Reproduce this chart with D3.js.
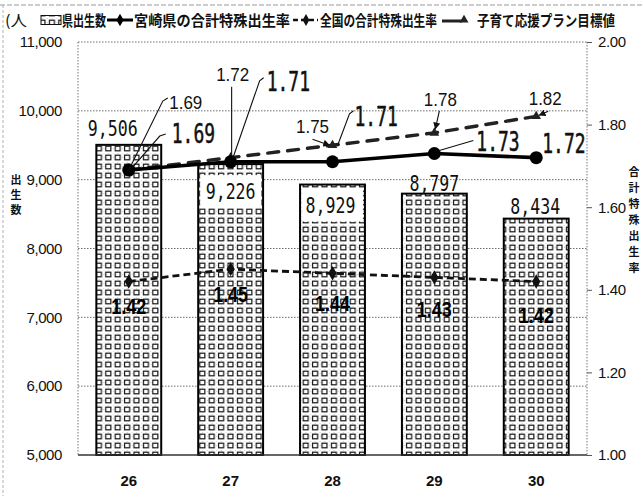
<!DOCTYPE html>
<html>
<head>
<meta charset="utf-8">
<script src="https://cdn.jsdelivr.net/npm/d3@7"></script>
<style>
  html, body { margin: 0; padding: 0; background: #fff; }
  svg { display: block; }
</style>
</head>
<body>
<svg id="chart" width="642" height="496"></svg>
<script>
// ---- data ----
const years = ["26", "27", "28", "29", "30"];
const births = [9506, 9226, 8929, 8797, 8434];
const miyazakiTFR = [1.69, 1.71, 1.71, 1.73, 1.72];
const nationalTFR = [1.42, 1.45, 1.44, 1.43, 1.42];
const planTarget = [1.69, 1.72, 1.75, 1.78, 1.82];
const birthTicks = [5000, 6000, 7000, 8000, 9000, 10000, 11000];
const rateTicks = [1.0, 1.2, 1.4, 1.6, 1.8, 2.0];
const unitLabel = "(人";
const legendLabels = ["県出生数", "宮崎県の合計特殊出生率", "全国の合計特殊出生率", "子育て応援プラン目標値"];
const leftTitle = "出生数";
const rightTitle = "合計特殊出生率";

// ---- annotation layout (offsets from the marks they describe) ----
const birthLabelPos = [
  { dx: -16, dy: -9, box: false },
  { dx: 0, dy: 35, box: true },
  { dx: -2, dy: 28, box: true },
  { dx: 0, dy: -3, box: false },
  { dx: -1, dy: -5, box: false }
];
const miyaLabelPos = [
  { dx: 43, dy: -27, leader: [[3, -2], [31, -34], [37, -36]] },
  { dx: 36, dy: -71, leader: [[2, -3], [29, -81], [33, -84]] },
  { dx: 22, dy: -36, leader: [[5, -16], [17, -48], [21, -51]] },
  { dx: 42, dy: -3, leader: [[5, -3], [39, -13]] },
  { dx: 6, dy: -5, leader: null }
];
const targetLabelPos = [
  { dx: 57, dy: -61, leader: [[0, 0], [34, -69], [39, -72]], arrow: false },
  { dx: 2, dy: -77, leader: [[1, -71], [1, -3]], arrow: false },
  { dx: -20, dy: -12, leader: [[-20, -6], [-3, 0]], arrow: true },
  { dx: 6, dy: -27, leader: [[5, -22], [1, -4]], arrow: true },
  { dx: 9, dy: -11, leader: [[12, -5], [3, -1]], arrow: true }
];
const nationalLabelDy = [32, 33, 38, 40, 41];

// ---- frame ----
const W = 642, H = 496;
const plotL = 78, plotR = 587, plotT = 42, plotB = 455;
const svg = d3.select("#chart");

const defs = svg.append("defs");
const pat = defs.append("pattern")
  .attr("id", "boxes")
  .attr("patternUnits", "userSpaceOnUse")
  .attr("width", 9.4).attr("height", 9);
pat.append("rect").attr("width", 9.4).attr("height", 9).attr("fill", "#fff");
pat.append("rect").attr("x", 2.4).attr("y", 2.2).attr("width", 5).attr("height", 4.6)
  .attr("fill", "none").attr("stroke", "#151515").attr("stroke-width", 1.2);
[[0.6, 0.6], [4.9, 0.5], [0.6, 4.5]].forEach(([ccx, ccy]) =>
  pat.append("circle").attr("cx", ccx).attr("cy", ccy).attr("r", 0.45).attr("fill", "#999"));

defs.append("marker")
  .attr("id", "arrow")
  .attr("viewBox", "0 0 10 10")
  .attr("refX", 9).attr("refY", 5)
  .attr("markerWidth", 7).attr("markerHeight", 7)
  .attr("markerUnits", "userSpaceOnUse")
  .attr("orient", "auto")
  .append("path").attr("d", "M0,0 L10,5 L0,10 Z").attr("fill", "#111");

// page border dashes
svg.append("line").attr("x1", 0).attr("x2", W).attr("y1", 5).attr("y2", 5)
  .attr("stroke", "#9a9a9a").attr("stroke-width", 1).attr("stroke-dasharray", "5,2");
svg.append("line").attr("x1", 3).attr("x2", 3).attr("y1", 5).attr("y2", H)
  .attr("stroke", "#b0b0b0").attr("stroke-width", 1).attr("stroke-dasharray", "3,2");

// ---- scales ----
const x = d3.scaleBand().domain(years).range([plotL, plotR])
  .paddingInner(0.363).paddingOuter(0.18);
const bw = x.bandwidth();
const cx = i => x(years[i]) + bw / 2;
const yL = d3.scaleLinear().domain([5000, 11000]).range([plotB, plotT]);
const yR = d3.scaleLinear().domain([1.0, 2.0]).range([plotB, plotT]);

// ---- grid ----
svg.append("g").selectAll("line")
  .data(birthTicks.filter(d => d > 5000))
  .join("line")
  .attr("x1", plotL).attr("x2", plotR)
  .attr("y1", d => yL(d)).attr("y2", d => yL(d))
  .attr("stroke", "#6e6e6e").attr("stroke-width", 1).attr("stroke-dasharray", "1.5,1.5");
[plotL, plotR].forEach(xx =>
  svg.append("line").attr("x1", xx).attr("x2", xx).attr("y1", plotT).attr("y2", plotB)
    .attr("stroke", "#777").attr("stroke-width", 1).attr("stroke-dasharray", "1.5,1.5"));

// ---- axes ----
const gL = svg.append("g").attr("transform", `translate(${plotL},0)`)
  .call(d3.axisLeft(yL).tickValues(birthTicks).tickFormat(d3.format(",")).tickSize(0).tickPadding(16));
gL.select(".domain").remove();
gL.selectAll("text").attr("font-family", "Liberation Sans, Arial, sans-serif")
  .attr("font-size", 15).attr("fill", "#111").attr("letter-spacing", "-0.4");

const gR = svg.append("g").attr("transform", `translate(${plotR},0)`)
  .call(d3.axisRight(yR).tickValues(rateTicks).tickFormat(d3.format(".2f")).tickSize(5).tickPadding(6));
gR.select(".domain").remove();
gR.selectAll("line").attr("stroke", "#555");
gR.selectAll("text").attr("font-family", "Liberation Sans, Arial, sans-serif")
  .attr("font-size", 15).attr("fill", "#111").attr("letter-spacing", "-0.4");

const gX = svg.append("g").attr("transform", `translate(0,${plotB})`)
  .call(d3.axisBottom(x).tickSize(0).tickPadding(20));
gX.select(".domain").remove();
gX.selectAll("text").attr("font-family", "Liberation Sans, Arial, sans-serif")
  .attr("font-size", 15).attr("font-weight", "bold").attr("fill", "#111");

// ---- bars ----
svg.append("g").selectAll("rect")
  .data(births)
  .join("rect")
  .attr("x", (d, i) => x(years[i]))
  .attr("y", d => yL(d))
  .attr("width", bw)
  .attr("height", d => plotB - yL(d))
  .attr("fill", "url(#boxes)")
  .attr("stroke", "#000").attr("stroke-width", 2);

// baseline
svg.append("line").attr("x1", plotL).attr("x2", plotR).attr("y1", plotB).attr("y2", plotB)
  .attr("stroke", "#333").attr("stroke-width", 1.3);

// white plates behind in-bar labels
svg.append("g").selectAll("rect")
  .data(births.map((v, i) => ({ v, i, p: birthLabelPos[i] })).filter(d => d.p.box))
  .join("rect")
  .attr("x", d => x(years[d.i]) + 2)
  .attr("y", d => yL(d.v) + d.p.dy - 24)
  .attr("width", bw - 4)
  .attr("height", 33)
  .attr("fill", "#fff");

// ---- lines ----
const idx = d3.range(years.length);
const lineOf = arr => d3.line().x(i => cx(i)).y(i => yR(arr[i]))(idx);

// national
svg.append("path").attr("d", lineOf(nationalTFR))
  .attr("fill", "none").attr("stroke", "#111").attr("stroke-width", 2.8)
  .attr("stroke-dasharray", "7,4");
svg.append("g").selectAll("path").data(nationalTFR).join("path")
  .attr("transform", (d, i) => `translate(${cx(i)},${yR(d)})`)
  .attr("d", d3.symbol(d3.symbolDiamond, 60)).attr("fill", "#111");

// plan target
svg.append("path").attr("d", lineOf(planTarget))
  .attr("fill", "none").attr("stroke", "#222").attr("stroke-width", 3.4)
  .attr("stroke-linecap", "round").attr("stroke-dasharray", "11,9");
svg.append("g").selectAll("path").data(planTarget).join("path")
  .attr("transform", (d, i) => `translate(${cx(i)},${yR(d)})`)
  .attr("d", d3.symbol(d3.symbolTriangle, 40)).attr("fill", "#222");

// Miyazaki
svg.append("path").attr("d", lineOf(miyazakiTFR))
  .attr("fill", "none").attr("stroke", "#000").attr("stroke-width", 3.6);
svg.append("g").selectAll("circle").data(miyazakiTFR).join("circle")
  .attr("cx", (d, i) => cx(i)).attr("cy", d => yR(d)).attr("r", 6.5).attr("fill", "#000");

// ---- labels ----
const fmtRate = d3.format(".2f");
const fmtBirth = d3.format(",");
const monoFont = "DejaVu Sans Mono, Liberation Mono, monospace";

// birth counts (tall, narrow monospace digits)
svg.append("g").selectAll("text").data(births).join("text")
  .attr("transform", (d, i) =>
    `translate(${cx(i) + birthLabelPos[i].dx},${yL(d) + birthLabelPos[i].dy}) scale(1,1.25)`)
  .attr("text-anchor", "middle")
  .attr("font-family", monoFont)
  .attr("font-size", 16.6)
  .attr("fill", "#111")
  .text(d => fmtBirth(d));

// leaders
const leaderLine = d3.line();
function drawLeader(px, py, pts, arrow) {
  const p = svg.append("path")
    .attr("d", leaderLine(pts.map(([dx, dy]) => [px + dx, py + dy])))
    .attr("fill", "none").attr("stroke", "#111").attr("stroke-width", 1.1);
  if (arrow) p.attr("marker-end", "url(#arrow)");
}
planTarget.forEach((v, i) => {
  const L = targetLabelPos[i];
  if (L.leader) drawLeader(cx(i), yR(v), L.leader, L.arrow);
});
miyazakiTFR.forEach((v, i) => {
  const L = miyaLabelPos[i];
  if (L.leader) drawLeader(cx(i), yR(v), L.leader, false);
});

// plan target values
svg.append("g").selectAll("text").data(planTarget).join("text")
  .attr("x", (d, i) => cx(i) + targetLabelPos[i].dx)
  .attr("y", (d, i) => yR(d) + targetLabelPos[i].dy)
  .attr("text-anchor", "middle")
  .attr("font-family", "Liberation Sans, Arial, sans-serif")
  .attr("font-size", 19)
  .attr("textLength", 33).attr("lengthAdjust", "spacingAndGlyphs")
  .attr("fill", "#111")
  .text(d => fmtRate(d));

// Miyazaki values (tall, narrow monospace digits)
svg.append("g").selectAll("text").data(miyazakiTFR).join("text")
  .attr("transform", (d, i) =>
    `translate(${cx(i) + miyaLabelPos[i].dx},${yR(d) + miyaLabelPos[i].dy}) scale(1,1.5)`)
  .attr("font-family", monoFont)
  .attr("font-size", 18)
  .attr("stroke", "#111").attr("stroke-width", 0.35)
  .attr("fill", "#111")
  .text(d => fmtRate(d));

// national values
svg.append("g").selectAll("text").data(nationalTFR).join("text")
  .attr("x", (d, i) => cx(i))
  .attr("y", (d, i) => yR(d) + nationalLabelDy[i])
  .attr("text-anchor", "middle")
  .attr("font-family", "Liberation Sans, Arial, sans-serif")
  .attr("font-weight", "bold").attr("font-size", 22)
  .attr("textLength", 35).attr("lengthAdjust", "spacingAndGlyphs")
  .attr("fill", "#000")
  .text(d => fmtRate(d));

// ---- legend ----
const lg = svg.append("g").attr("font-family", "Noto Sans CJK JP, sans-serif")
  .attr("font-weight", "bold").attr("font-size", 15).attr("fill", "#111");
const ly = 26, lmid = 20;
lg.append("text").attr("x", 5).attr("y", ly).attr("textLength", 22)
  .attr("lengthAdjust", "spacingAndGlyphs").attr("font-weight", "normal").text(unitLabel);
lg.append("rect").attr("x", 41).attr("y", 15.5).attr("width", 20).attr("height", 9)
  .attr("fill", "url(#boxes)").attr("stroke", "#111").attr("stroke-width", 1);
lg.append("text").attr("x", 62).attr("y", ly).attr("textLength", 44)
  .attr("lengthAdjust", "spacingAndGlyphs").text(legendLabels[0]);
lg.append("line").attr("x1", 107).attr("x2", 133).attr("y1", lmid).attr("y2", lmid)
  .attr("stroke", "#000").attr("stroke-width", 3);
lg.append("path").attr("transform", `translate(120,${lmid})`)
  .attr("d", d3.symbol(d3.symbolDiamond, 45)).attr("fill", "#000");
lg.append("text").attr("x", 134).attr("y", ly).attr("textLength", 156)
  .attr("lengthAdjust", "spacingAndGlyphs").text(legendLabels[1]);
lg.append("line").attr("x1", 293).attr("x2", 318).attr("y1", lmid).attr("y2", lmid)
  .attr("stroke", "#111").attr("stroke-width", 2.5).attr("stroke-dasharray", "5,3");
lg.append("path").attr("transform", `translate(306,${lmid})`)
  .attr("d", d3.symbol(d3.symbolDiamond, 40)).attr("fill", "#111");
lg.append("text").attr("x", 320).attr("y", ly).attr("textLength", 117)
  .attr("lengthAdjust", "spacingAndGlyphs").text(legendLabels[2]);
lg.append("line").attr("x1", 442).attr("x2", 462).attr("y1", lmid + 1).attr("y2", lmid + 1)
  .attr("stroke", "#222").attr("stroke-width", 3);
lg.append("path").attr("transform", `translate(464,${lmid})`)
  .attr("d", d3.symbol(d3.symbolTriangle, 35)).attr("fill", "#222");
lg.append("text").attr("x", 477).attr("y", ly).attr("textLength", 138)
  .attr("lengthAdjust", "spacingAndGlyphs").text(legendLabels[3]);

// ---- vertical axis titles ----
const tL = svg.append("g").attr("font-family", "Noto Sans CJK JP, sans-serif")
  .attr("font-weight", "bold").attr("font-size", 11).attr("fill", "#111")
  .attr("text-anchor", "middle");
Array.from(leftTitle).forEach((ch, k) =>
  tL.append("text").attr("x", 16).attr("y", 184 + k * 15).text(ch));
Array.from(rightTitle).forEach((ch, k) =>
  tL.append("text").attr("x", 634).attr("y", 176 + k * 16).text(ch));
</script>
</body>
</html>
